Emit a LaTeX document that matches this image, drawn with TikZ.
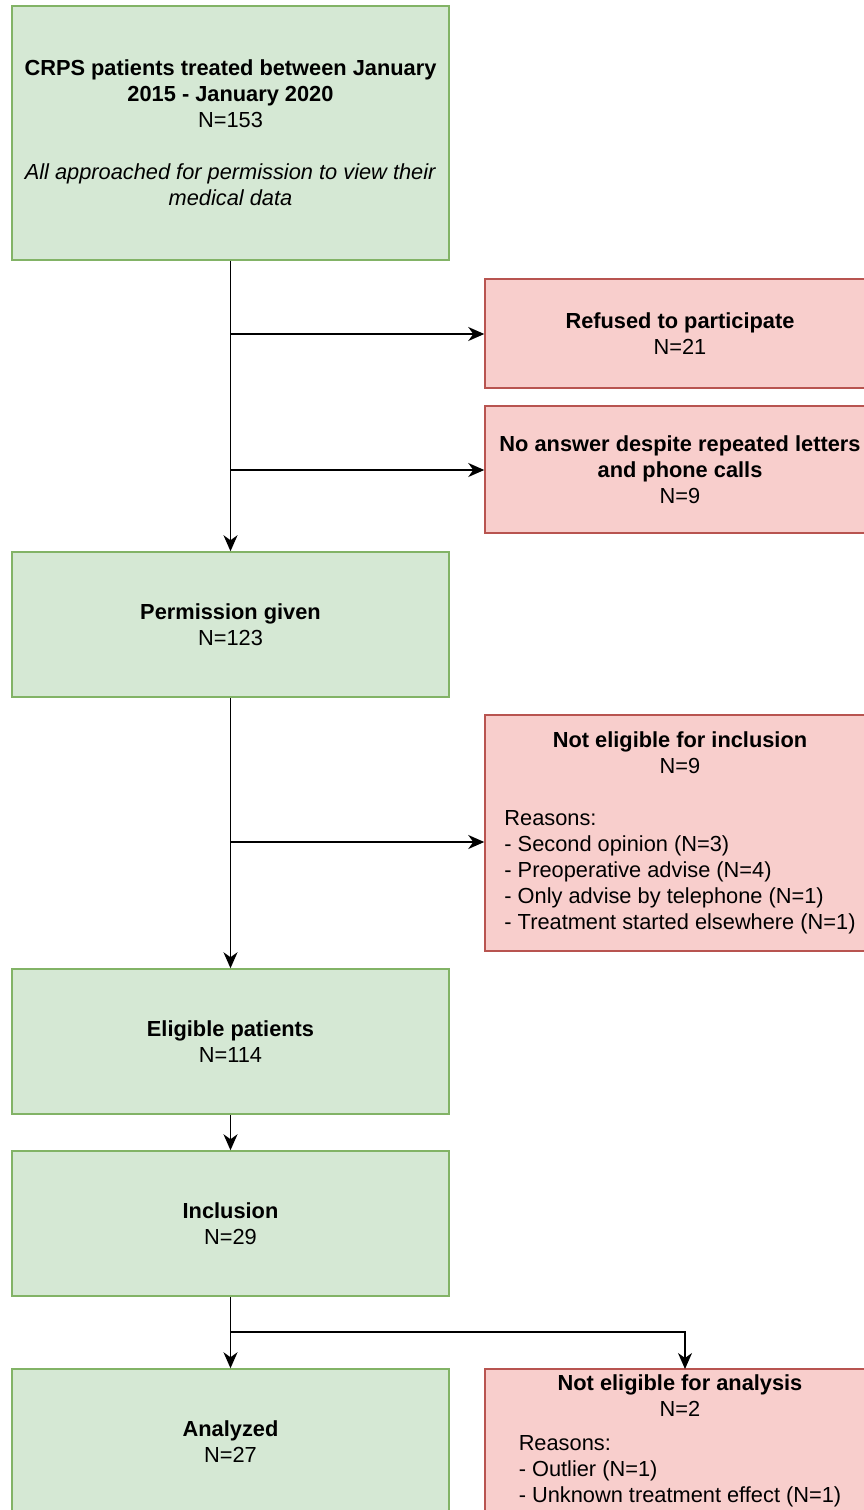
\documentclass[tikz,border=0pt]{standalone}
\usepackage{fontspec}
\setmainfont{Liberation Sans}
\usetikzlibrary{arrows.meta}
\definecolor{gfill}{HTML}{D5E8D4}
\definecolor{gline}{HTML}{82B366}
\definecolor{rfill}{HTML}{F8CECC}
\definecolor{rline}{HTML}{B85450}
\tikzset{
  base/.style={draw, line width=1.5pt, inner sep=0pt, align=center,
    font=\fontsize{21.8}{26}\selectfont},
  gbox/.style={base, fill=gfill, draw=gline, minimum width=437pt},
  rbox/.style={base, fill=rfill, draw=rline, minimum width=390pt},
  arr/.style={line width=1.6pt, -{Stealth[length=16pt,width=14pt,inset=5pt]}},
  ln/.style={line width=1.6pt}
}
\begin{document}
\begin{tikzpicture}[x=1pt,y=-1pt]
\useasboundingbox (0,0) rectangle (864,1510);
\clip (0,0) rectangle (864,1510);
\node[gbox, minimum height=254pt] (b1) at (230.5,133) {\textbf{CRPS patients treated between January}\\\textbf{2015 - January 2020}\\N=153\\[26pt]\textit{All approached for permission to view their}\\\textit{medical data}};
\node[gbox, minimum height=145pt] (b2) at (230.5,624.5) {\textbf{Permission given}\\N=123};
\node[gbox, minimum height=145pt] (b3) at (230.5,1041.5) {\textbf{Eligible patients}\\N=114};
\node[gbox, minimum height=145pt] (b4) at (230.5,1223.5) {\textbf{Inclusion}\\N=29};
\node[gbox, minimum height=145pt] (b5) at (230.5,1441.5) {\textbf{Analyzed}\\N=27};
\node[rbox, minimum height=109pt] (r1) at (680,333.5) {\textbf{Refused to participate}\\N=21};
\node[rbox, minimum height=127pt] (r2) at (680,469.5) {\textbf{No answer despite repeated letters}\\\textbf{and phone calls}\\N=9};
\node[rbox, minimum height=236pt] (r3) at (680,833) {\begin{tabular}{@{}l@{}}\multicolumn{1}{c}{\textbf{Not eligible for inclusion}}\\\multicolumn{1}{c}{N=9}\\ \\Reasons:\\- Second opinion (N=3)\\- Preoperative advise (N=4)\\- Only advise by telephone (N=1)\\- Treatment started elsewhere (N=1)\end{tabular}};
\node[rbox, minimum height=145pt] (r4) at (680,1441.5) {\begin{tabular}{@{}l@{}}\multicolumn{1}{c}{\textbf{Not eligible for analysis}}\\\multicolumn{1}{c}{N=2}\\[8pt]Reasons:\\- Outlier (N=1)\\- Unknown treatment effect (N=1)\end{tabular}};
\coordinate (j1) at (230.5,334);
\coordinate (j2) at (230.5,470);
\coordinate (j3) at (230.5,842);
\coordinate (j4) at (230.5,1332);
\coordinate (t4) at (685,1369);
\draw[arr] (b1.south) -- (b2.north);
\draw[arr] (j1) -- (r1.west |- j1);
\draw[arr] (j2) -- (r2.west |- j2);
\draw[arr] (b2.south) -- (b3.north);
\draw[arr] (j3) -- (r3.west |- j3);
\draw[arr] (b3.south) -- (b4.north);
\draw[arr] (b4.south) -- (b5.north);
\draw[arr] (j4) -| (t4);
\end{tikzpicture}
\end{document}
